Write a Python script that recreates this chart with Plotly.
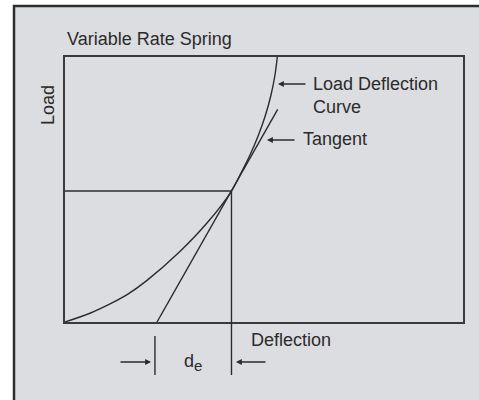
import plotly.graph_objects as go

# Load-deflection curve (axis units 0-100)
curve_deflection = [0, 6.28, 11.31, 15.9, 20.53, 28.47, 36.05, 41.83, 43.97, 46.48, 48.62, 50.38, 51.76, 52.76, 53.34]
curve_load = [0, 3.3, 6.8, 10.6, 15.6, 26.0, 38.0, 49.43, 55.47, 63.02, 70.57, 78.11, 85.66, 93.21, 100]

# Tangent line end points
tangent_deflection = [23.12, 53.44]
tangent_load = [0, 80.26]

# Operating point
op_deflection = 41.83
op_load = 49.43

# de marker (tangent intercept tick)
de_tick = 22.6

INK = "#2b2b2b"
FONT = "Liberation Sans, Arial, sans-serif"
W, H = 479, 400
L, R, T, B = 65, 16, 57, 78
PW, PH = W - L - R, H - T - B


def px(xp):
    return (xp - L) / PW


def py(yp):
    return (H - B - yp) / PH


fig = go.Figure()
fig.add_trace(go.Scatter(x=curve_deflection, y=curve_load, mode="lines",
                         line=dict(color=INK, width=1.4, shape="spline", smoothing=1.0),
                         hoverinfo="skip"))
fig.add_trace(go.Scatter(x=tangent_deflection, y=tangent_load, mode="lines",
                         line=dict(color=INK, width=1.4), hoverinfo="skip"))
fig.add_trace(go.Scatter(x=[0, op_deflection], y=[op_load, op_load], mode="lines",
                         line=dict(color=INK, width=1.4), hoverinfo="skip"))

shapes = [
    # outer frame with gray panel
    dict(type="rect", xref="paper", yref="paper", x0=px(14), x1=px(495), y0=py(415), y1=py(6),
         line=dict(color="#2e2e2e", width=2.5), fillcolor="#dcdde0", layer="below"),
    # vertical line from operating point down below the axis
    dict(type="line", xref="x", yref="paper", x0=op_deflection, x1=op_deflection,
         y0=py(375), y1=op_load / 100, line=dict(color=INK, width=1.4)),
    # tick at tangent intercept
    dict(type="line", xref="x", yref="paper", x0=de_tick, x1=de_tick,
         y0=py(375), y1=py(336), line=dict(color=INK, width=1.4)),
]

tf = dict(family=FONT, size=18, color=INK)
annotations = [
    dict(text="Variable Rate Spring", xref="paper", yref="paper", x=px(65), y=py(39),
         xanchor="left", yanchor="middle", showarrow=False, font=tf),
    dict(text="Load", xref="paper", yref="paper", x=px(48), y=py(105), textangle=-90,
         xanchor="center", yanchor="middle", showarrow=False, font=tf),
    dict(text="Load Deflection<br>Curve", xref="paper", yref="paper", x=px(311), y=py(95),
         xanchor="left", yanchor="middle", align="left", showarrow=False, font=tf),
    dict(text="Tangent", xref="paper", yref="paper", x=px(301), y=py(139),
         xanchor="left", yanchor="middle", showarrow=False, font=tf),
    dict(text="Deflection", xref="paper", yref="paper", x=px(249), y=py(340),
         xanchor="left", yanchor="middle", showarrow=False, font=tf),
    dict(text="d<sub><span style='font-size:15px'>e</span></sub>", xref="paper", yref="paper",
         x=px(193), y=py(362), xanchor="center", yanchor="middle", showarrow=False, font=tf),
]

arrows = [
    (278, 84, 29, 0),
    (267, 140, 29, 0),
    (151, 362, -32, 0),
    (236, 362, 31, 0),
]
for hx, hy, ax, ay in arrows:
    annotations.append(dict(text="", xref="paper", yref="paper", x=px(hx), y=py(hy),
                            ax=ax, ay=ay, showarrow=True, arrowhead=2, arrowsize=0.9,
                            arrowwidth=1.3, arrowcolor=INK, standoff=0))

fig.update_layout(
    width=W, height=H,
    margin=dict(l=L, r=R, t=T, b=B),
    paper_bgcolor="white",
    plot_bgcolor="rgba(0,0,0,0)",
    showlegend=False,
    shapes=shapes,
    annotations=annotations,
    xaxis=dict(range=[0, 100], showgrid=False, zeroline=False, showticklabels=False,
               ticks="", showline=True, mirror=True, linecolor="#3a3a3a", linewidth=1.6,
               fixedrange=True),
    yaxis=dict(range=[0, 100], showgrid=False, zeroline=False, showticklabels=False,
               ticks="", showline=True, mirror=True, linecolor="#3a3a3a", linewidth=1.6,
               fixedrange=True),
)

fig.write_html("out.html", config={"displayModeBar": False},
               post_script="document.body.style.margin='0';document.body.style.overflow='hidden';")
